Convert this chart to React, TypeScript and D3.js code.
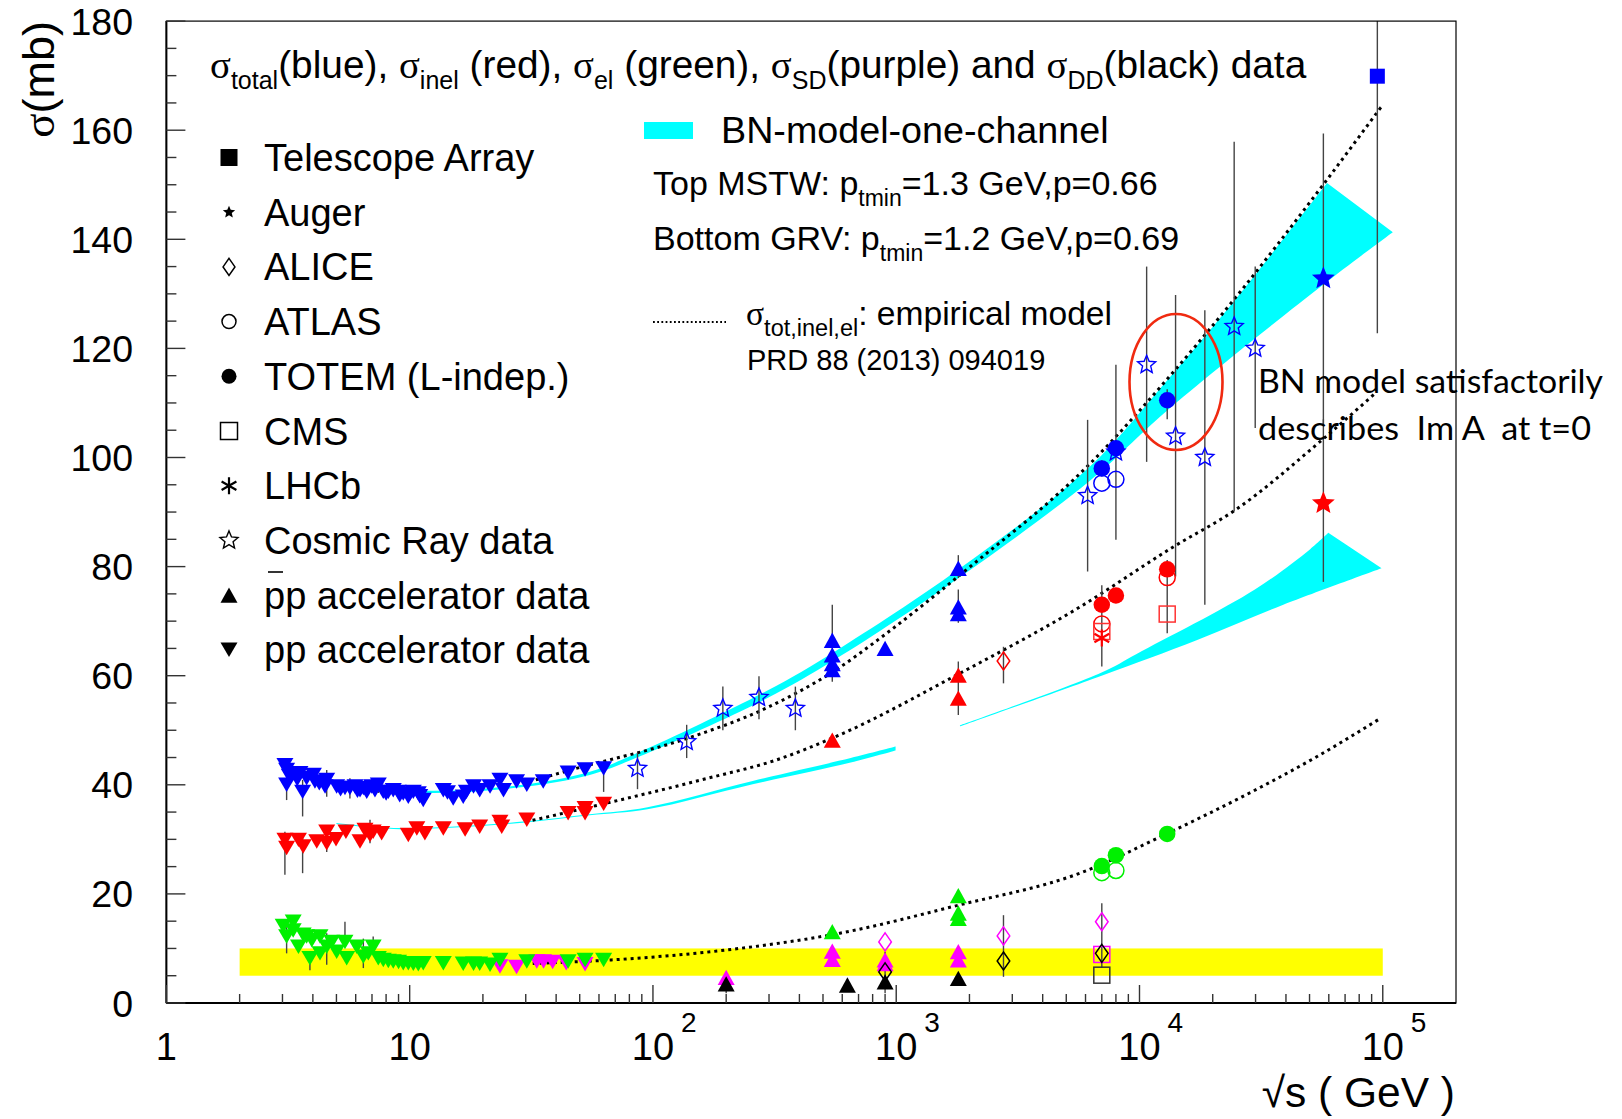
import React from 'react';
import * as d3 from 'd3';

const W = 1622, H = 1119;
const FONT = "'Liberation Sans', Arial, Helvetica, sans-serif";
const SERIF = "'Liberation Serif', 'Times New Roman', serif";

// ---------- axes ----------
const xDomain: [number, number] = [1, 2e5];
const yDomain: [number, number] = [0, 180];
const xMajorTicks = [1, 10, 100, 1000, 10000, 100000];
const xTickBase = ['1', '10', '10', '10', '10', '10'];
const xTickExp = ['', '', '2', '3', '4', '5'];
const yMajorTicks = [0, 20, 40, 60, 80, 100, 120, 140, 160, 180];

// ---------- pp accelerator data (down triangles) ----------
const ppTotal: [number, number][] = [
  [3.07, 43.6], [3.12, 42.7], [3.12, 40.0], [3.2, 41.6], [3.32, 42.1], [3.45, 41.0], [3.54, 42.1], [3.63, 38.7],
  [3.77, 41.2], [4.02, 41.8], [4.08, 40.6], [4.25, 40.3], [4.49, 39.7], [4.56, 40.9], [5.01, 39.7], [5.2, 39.2],
  [5.42, 39.4], [5.68, 39.4], [5.96, 39.7], [6.1, 38.9], [6.25, 39.0], [6.45, 39.4], [6.66, 38.7], [6.98, 39.7],
  [7.2, 39.0], [7.43, 40.0], [7.79, 38.7], [8.0, 38.4], [8.17, 38.7], [8.56, 39.0], [8.98, 38.7], [9.1, 38.1],
  [9.41, 38.4], [9.87, 37.8], [10.0, 38.3], [10.35, 38.7], [10.85, 38.4], [11.0, 37.9], [11.37, 37.2],
  [13.75, 39.0], [14.3, 38.6], [15.1, 37.5], [16.6, 37.8], [17.1, 38.7], [18.3, 39.7], [19.4, 39.0],
  [21.4, 39.7], [23.5, 40.9], [24.3, 39.0], [27.5, 40.6], [30.3, 40.0], [35.4, 40.6], [44.8, 42.2],
  [52.6, 42.8], [62.7, 43.0],
];
const ppInel: [number, number][] = [
  [3.07, 29.9], [3.12, 28.4], [3.49, 29.9], [3.65, 28.7], [4.15, 29.6], [4.56, 31.4], [4.56, 29.3],
  [4.98, 30.0], [5.47, 31.4], [6.25, 29.6], [6.55, 31.7], [6.87, 30.8], [7.08, 31.4], [7.67, 31.1],
  [9.87, 30.8], [10.7, 32.0], [11.55, 31.1], [13.75, 32.0], [16.9, 31.8], [19.4, 32.3], [23.5, 33.2],
  [23.9, 32.3], [30.3, 33.6], [44.8, 34.8], [52.6, 35.7], [52.6, 34.8], [62.7, 36.5],
];
const ppEl: [number, number][] = [
  [3.02, 14.1], [3.12, 12.2], [3.32, 14.9], [3.32, 13.3], [3.49, 10.3], [3.65, 12.5], [3.77, 12.2],
  [3.89, 8.2], [3.96, 11.5], [4.28, 12.2], [4.28, 9.1], [4.56, 10.3], [4.78, 11.2], [5.01, 9.4],
  [5.42, 11.2], [5.51, 8.2], [6.06, 10.3], [6.45, 8.5], [6.76, 9.1], [7.08, 10.3], [7.43, 8.2],
  [7.79, 7.9], [8.17, 7.7], [8.56, 7.6], [9.0, 7.5], [9.41, 7.3], [9.87, 7.3], [10.35, 7.2], [10.85, 7.1],
  [11.37, 7.3], [13.75, 7.3], [16.6, 7.2], [18.3, 7.2], [19.4, 7.2], [21.4, 7.0], [23.5, 7.9],
  [30.3, 7.6], [44.8, 7.6], [52.6, 7.9], [62.7, 7.9],
];
const ppSD: [number, number][] = [
  [23.5, 6.7], [27.5, 6.6], [33.3, 7.6], [35.5, 7.6], [38.7, 7.5], [44.0, 7.3], [52.6, 7.1],
];

// ---------- pbar-p accelerator data (up triangles) ----------
const ppbarTotal: [number, number][] = [
  [546, 66.5], [546, 63.8], [546, 62.2], [546, 61.1], [900, 65.0], [1800, 79.7], [1800, 72.6], [1800, 71.4],
];
const ppbarInel: [number, number][] = [[546, 48.2], [1800, 60.1], [1800, 55.9]];
const ppbarEl: [number, number][] = [[546, 13.1], [1800, 19.7], [1800, 16.5], [1800, 15.5]];
const ppbarSD: [number, number][] = [[200, 4.7], [546, 9.5], [546, 8.0], [900, 7.9], [900, 7.2], [1800, 9.4], [1800, 7.9]];
const ppbarDD: [number, number][] = [[200, 3.5], [630, 3.3], [900, 3.9], [1800, 4.5]];

// ---------- cosmic ray data (open stars) : sqrt(s), sigma, low, high ----------
const cosmicTotal: [number, number, number, number][] = [
  [86.4, 43.0, 39.2, 45.9], [137.6, 47.9, 44.9, 51.0], [193.8, 54.0, 50.0, 58.0], [272.8, 56.0, 52.0, 59.9],
  [385, 54.0, 50.0, 58.0], [6120, 93.0, 79.1, 106.9], [8000, 101.0, 84.9, 117.0], [10700, 117.0, 99.2, 135.0],
  [14070, 103.9, 78.2, 129.8], [18560, 100.0, 73.0, 127.0], [24500, 124.0, 90.1, 157.9], [29900, 120.0, 105.4, 135.0],
];

// ---------- LHC & ultra-high-energy data ----------
const totemTotal: [number, number][] = [[7000, 98.0], [8000, 101.7], [13000, 110.5]];
const totemInel: [number, number][] = [[7000, 73.0], [8000, 74.7], [13000, 79.5]];
const totemEl: [number, number][] = [[7000, 25.1], [8000, 27.1], [13000, 31.0]];
const atlasTotal: [number, number][] = [[7000, 95.3], [8000, 96.0]];
const atlasInel: [number, number][] = [[7000, 69.5], [13000, 78.0]];
const atlasEl: [number, number][] = [[7000, 23.9], [8000, 24.3]];
const cmsInel: [number, number][] = [[7000, 68.1], [13000, 71.3]];
const cmsSD: [number, number][] = [[7000, 8.9]];
const cmsDD: [number, number][] = [[7000, 5.1]];
const lhcbInel: [number, number][] = [[7000, 66.9]];
const aliceInel: [number, number][] = [[2760, 62.7]];
const aliceSD: [number, number][] = [[900, 11.2], [2760, 12.3], [7000, 14.9]];
const aliceDD: [number, number][] = [[900, 5.7], [2760, 7.7], [7000, 9.1]];
const augerTotal: [number, number][] = [[57000, 132.8]];
const augerInel: [number, number][] = [[57000, 91.6]];
const taTotal: [number, number][] = [[95000, 169.9]];

// ---------- error bars : sqrt(s), low, high ----------
const errorBars: [number, number, number][] = [
  [3.12, 37.2, 43.9], [3.63, 34.2, 40.9], [4.56, 37.8, 42.7], [5.68, 37.5, 41.2], [7.43, 38.5, 41.2], [62.7, 38.7, 44.5],
  [3.07, 23.5, 31.4], [3.63, 23.8, 31.1], [4.56, 27.7, 32.6], [6.87, 29.3, 33.6],
  [3.12, 9.1, 13.9], [3.89, 6.0, 8.5], [4.56, 7.0, 12.8], [5.42, 10.3, 14.9], [6.45, 6.4, 11.8], [7.08, 9.1, 12.2],
  [546, 58.9, 73.0], [1800, 77.9, 82.1], [1800, 69.7, 75.8], [1800, 52.8, 62.6], [2760, 58.6, 65.3],
  [2760, 4.8, 16.1], [900, 1.8, 9.4], [200, 1.8, 4.8], [7000, 6.4, 18.3], [7000, 61.7, 76.6],
  [13000, 67.8, 81.2], [13000, 107.0, 112.5], [7000, 96.5, 99.5],
  [57000, 106.0, 159.4], [57000, 77.2, 107.0], [95000, 122.8, 180],
];

// ---------- empirical model (dotted) ----------
const modelTotal: [number, number][] = [
  [33, 40.9], [45.7, 42.7], [138, 48.5], [290, 54.0], [562, 61.0], [896, 67.5], [1940, 79.4],
  [6270, 98.9], [12900, 114.2], [24400, 128.9], [56000, 149.6], [99000, 164.4],
];
const modelInel: [number, number][] = [
  [30, 33.2], [168, 41.2], [319, 44.5], [562, 48.8], [1820, 60.4], [5690, 72.6], [13760, 83.6],
  [24800, 90.4], [56200, 103.2], [93300, 111.8],
];
const modelEl: [number, number][] = [
  [30, 7.2], [67.5, 7.9], [199, 9.7], [587, 12.8], [1791, 17.9], [5690, 23.8], [12900, 31.0],
  [29200, 38.8], [52800, 45.0], [98000, 52.2],
];

// ---------- BN model bands (cyan) ----------
const bnTotalUpper: [number, number][] = [
  [5, 40.2], [12, 38.9], [28, 39.9], [55, 42.4], [88, 46.0], [293, 57.2], [562, 64.5], [1817, 79.6],
  [6270, 98.4], [12900, 114.0], [24400, 128.6], [59000, 150.3],
];
const bnTotalLower: [number, number][] = [
  [5, 39.8], [12, 38.5], [28, 39.5], [55, 41.8], [88, 45.2], [293, 55.8], [562, 63.0], [1817, 78.0],
  [6270, 95.8], [12900, 108.5], [57000, 131.7], [110000, 141.3],
];
const bnInelLowUpper: [number, number][] = [
  [5, 33.0], [8.6, 32.1], [16, 32.4], [30, 33.3], [55, 34.6], [95, 35.9], [257, 40.7], [650, 44.9], [994, 47.0],
];
const bnInelLowLower: [number, number][] = [
  [5, 32.8], [8.6, 31.9], [16, 32.2], [30, 33.1], [55, 34.4], [95, 35.5], [257, 40.1], [650, 44.1], [994, 46.3],
];
const bnInelHighUpper: [number, number][] = [
  [1828, 50.9], [6985, 60.6], [9730, 64.0], [29800, 75.8], [50300, 83.2], [59700, 86.2],
];
const bnInelHighLower: [number, number][] = [
  [1828, 50.7], [6985, 60.0], [17170, 66.5], [39000, 73.0], [98900, 79.7],
];

// ---------- SD/DD band (yellow) : sqrt(s) range, sigma range ----------
const yellowS: [number, number] = [2, 1e5];
const yellowSigma: [number, number] = [5, 10];

// ---------- legend ----------
const legendLabels = [
  'Telescope Array', 'Auger', 'ALICE', 'ATLAS', 'TOTEM (L-indep.)', 'CMS', 'LHCb', 'Cosmic Ray data',
  'pp accelerator data', 'pp accelerator data',
];
const legendMarkers = ['fsq', 'fstar', 'dm', 'oc', 'fc', 'osq', 'ast', 'ostar', 'tu', 'td'];

const BLUE = '#0000ff', RED = '#ff0000', GREEN = '#00f000', MAG = '#ff00ff', CYAN = '#00ffff', YEL = '#ffff00';

function starPath(R: number, ratio = 0.42) {
  const pts: string[] = [];
  for (let i = 0; i < 10; i++) {
    const r = i % 2 === 0 ? R : R * ratio;
    const a = -Math.PI / 2 + (i * Math.PI) / 5;
    pts.push(`${(r * Math.cos(a)).toFixed(2)},${(r * Math.sin(a)).toFixed(2)}`);
  }
  return 'M' + pts.join('L') + 'Z';
}

function Marker({ type, cx, cy, s, color }: { type: string; cx: number; cy: number; s: number; color: string }) {
  const t = `translate(${cx},${cy})`;
  const sw = 1.5;
  switch (type) {
    case 'td': {
      const h = s * 0.85;
      return <path transform={t} d={`M${-s / 2},${-h / 2}L${s / 2},${-h / 2}L0,${h / 2}Z`} fill={color} />;
    }
    case 'tu': {
      const h = s * 0.9;
      return <path transform={t} d={`M${-s / 2},${h / 2}L${s / 2},${h / 2}L0,${-h / 2}Z`} fill={color} />;
    }
    case 'fc':
      return <circle cx={cx} cy={cy} r={s / 2} fill={color} />;
    case 'oc':
      return <circle cx={cx} cy={cy} r={s / 2} fill="none" stroke={color} strokeWidth={sw} />;
    case 'fsq':
      return <rect x={cx - s / 2} y={cy - s / 2} width={s} height={s} fill={color} />;
    case 'osq':
      return <rect x={cx - s / 2} y={cy - s / 2} width={s} height={s} fill="none" stroke={color} strokeWidth={sw} />;
    case 'dm': {
      const w = s * 0.7;
      return <path transform={t} d={`M0,${-s / 2}L${w / 2},0L0,${s / 2}L${-w / 2},0Z`} fill="none" stroke={color} strokeWidth={sw} />;
    }
    case 'fstar':
      return <path transform={t} d={starPath(s / 2, 0.45)} fill={color} />;
    case 'ostar':
      return <path transform={t} d={starPath(s / 2, 0.45)} fill="none" stroke={color} strokeWidth={1.4} />;
    case 'ast': {
      const r = s / 2;
      const d = `M0,${-r}L0,${r}M${-r * 0.87},${-r * 0.5}L${r * 0.87},${r * 0.5}M${-r * 0.87},${r * 0.5}L${r * 0.87},${-r * 0.5}`;
      return <path transform={t} d={d} stroke={color} strokeWidth={2.2} fill="none" />;
    }
  }
  return null;
}

type Part = [string, string];
function Rich({ x, y, size, sub, subDy, parts }: { x: number; y: number; size: number; sub: number; subDy: number; parts: Part[] }) {
  let cur = 0;
  return (
    <text x={x} y={y} fontSize={size} fontFamily={FONT} style={{ whiteSpace: 'pre' }}>
      {parts.map(([t, k], i) => {
        const target = k === 'sub' ? subDy : 0;
        const dy = target - cur;
        cur = target;
        return (
          <tspan key={i} dy={dy} fontSize={k === 'sub' ? sub : size} fontFamily={k === 'g' ? SERIF : FONT}>
            {t}
          </tspan>
        );
      })}
    </text>
  );
}

export default function App() {
  const X0 = 166.4, X1 = 1456, Y0 = 1003, Y1 = 21.1;
  const x = d3.scaleLog().domain(xDomain).range([X0, X1]);
  const y = d3.scaleLinear().domain(yDomain).range([Y0, Y1]);

  const line = d3.line<[number, number]>().x((d) => x(d[0])).y((d) => y(d[1])).curve(d3.curveMonotoneX);
  const edge = d3.line<[number, number]>().x((d) => x(d[0])).y((d) => y(d[1])).curve(d3.curveCatmullRom.alpha(0.5));
  const band = (up: [number, number][], lo: [number, number][]) => {
    const a = edge(up) as string;
    const b = edge(lo.slice().reverse()) as string;
    return a + 'L' + b.slice(1) + 'Z';
  };

  const xMinor: number[] = [];
  for (let p = 0; p < 5; p++) for (let k = 2; k <= 9; k++) xMinor.push(k * Math.pow(10, p));
  const yMinor = d3.range(0, 181, 5).filter((v) => v % 20 !== 0);

  const pts = (data: [number, number][], type: string, color: string, s: number, key: string) =>
    data.map((d, i) => <Marker key={key + i} type={type} cx={x(d[0])} cy={y(d[1])} s={s} color={color} />);

  const legendY0 = 157.5, legendDY = 54.7;

  return (
    <div style={{ position: 'absolute', left: 0, top: 0 }}>
      <svg width={W} height={H} viewBox={`0 0 ${W} ${H}`} style={{ display: 'block', background: '#fff' }}>
        <defs>
          <clipPath id="plotclip">
            <rect x={X0} y={Y1} width={X1 - X0} height={Y0 - Y1} />
          </clipPath>
        </defs>
        <rect x={0} y={0} width={W} height={H} fill="#fff" />

        <g clipPath="url(#plotclip)">
          {/* yellow SD/DD band */}
          <rect
            x={x(yellowS[0])}
            y={y(yellowSigma[1])}
            width={x(yellowS[1]) - x(yellowS[0])}
            height={y(yellowSigma[0]) - y(yellowSigma[1])}
            fill={YEL}
          />
          {/* cyan BN model bands */}
          <path d={band(bnTotalUpper, bnTotalLower)} fill={CYAN} />
          <path d={band(bnInelLowUpper, bnInelLowLower)} fill={CYAN} />
          <path d={band(bnInelHighUpper, bnInelHighLower)} fill={CYAN} />

          {/* empirical model */}
          {[modelTotal, modelInel, modelEl].map((m, i) => (
            <path key={'m' + i} d={line(m) as string} fill="none" stroke="#000" strokeWidth={3} strokeDasharray="3 4" />
          ))}

          {/* error bars */}
          {errorBars.map((e, i) => (
            <line key={'e' + i} x1={x(e[0])} x2={x(e[0])} y1={y(e[1])} y2={y(Math.min(e[2], 180))} stroke="#444" strokeWidth={1.4} />
          ))}
          {cosmicTotal.map((c, i) => (
            <line key={'ce' + i} x1={x(c[0])} x2={x(c[0])} y1={y(c[2])} y2={y(c[3])} stroke="#444" strokeWidth={1.4} />
          ))}

          {/* low energy pp */}
          {pts(ppSD, 'td', MAG, 17, 'sd')}
          {pts(ppTotal, 'td', BLUE, 17, 'pt')}
          {pts(ppInel, 'td', RED, 17, 'pi')}
          {pts(ppEl, 'td', GREEN, 17, 'pe')}

          {/* pbar-p */}
          {pts(ppbarTotal, 'tu', BLUE, 17, 'bt')}
          {pts(ppbarInel, 'tu', RED, 17, 'bi')}
          {pts(ppbarEl, 'tu', GREEN, 17, 'be')}
          {pts(ppbarSD, 'tu', MAG, 17, 'bs')}
          {pts(ppbarDD, 'tu', '#000', 17, 'bd')}

          {/* cosmic */}
          {pts(cosmicTotal.map((c) => [c[0], c[1]] as [number, number]), 'ostar', BLUE, 19, 'cr')}

          {/* LHC */}
          {pts(atlasTotal, 'oc', BLUE, 16, 'at')}
          {pts(atlasInel, 'oc', RED, 16, 'ai')}
          {pts(atlasEl, 'oc', GREEN, 16, 'ae')}
          {pts(cmsInel, 'osq', '#ff3333', 16, 'ci')}
          {pts(cmsSD, 'osq', MAG, 16, 'cs')}
          {pts(cmsDD, 'osq', '#333', 16, 'cd')}
          {pts(lhcbInel, 'ast', RED, 17, 'li')}
          {pts(aliceInel, 'dm', RED, 18, 'ali')}
          {pts(aliceSD, 'dm', MAG, 18, 'als')}
          {pts(aliceDD, 'dm', '#000', 18, 'ald')}
          {pts(totemTotal, 'fc', BLUE, 16.5, 'tt')}
          {pts(totemInel, 'fc', RED, 16.5, 'ti')}
          {pts(totemEl, 'fc', GREEN, 16.5, 'te')}
          {pts(augerTotal, 'fstar', BLUE, 24, 'ut')}
          {pts(augerInel, 'fstar', RED, 24, 'ui')}
          {pts(taTotal, 'fsq', BLUE, 15, 'ta')}
        </g>

        {/* frame */}
        <rect x={X0} y={Y1} width={X1 - X0} height={Y0 - Y1} fill="none" stroke="#000" strokeWidth={1.2} />
        <line x1={X0} x2={X1} y1={Y0} y2={Y0} stroke="#000" strokeWidth={2} />
        <line x1={X0} x2={X0} y1={Y0} y2={Y1} stroke="#000" strokeWidth={2} />

        {/* x ticks */}
        {xMajorTicks.map((t) => (
          <line key={'xM' + t} x1={x(t)} x2={x(t)} y1={Y0} y2={Y0 - 18} stroke="#333" strokeWidth={1.4} />
        ))}
        {xMinor.map((t) => (
          <line key={'xm' + t} x1={x(t)} x2={x(t)} y1={Y0} y2={Y0 - 9} stroke="#333" strokeWidth={1.4} />
        ))}
        {xMajorTicks.map((t, i) => (
          <g key={'xl' + t} fontFamily={FONT}>
            <text x={x(t)} y={1060} fontSize={38} textAnchor="middle">{xTickBase[i]}</text>
            {xTickExp[i] && (
              <text x={x(t) + 28} y={1032} fontSize={28}>{xTickExp[i]}</text>
            )}
          </g>
        ))}

        {/* y ticks */}
        {yMajorTicks.map((t) => (
          <line key={'yM' + t} x1={X0} x2={X0 + 19} y1={y(t)} y2={y(t)} stroke="#333" strokeWidth={1.4} />
        ))}
        {yMinor.map((t) => (
          <line key={'ym' + t} x1={X0} x2={X0 + 10} y1={y(t)} y2={y(t)} stroke="#333" strokeWidth={1.4} />
        ))}
        {yMajorTicks.map((t) => (
          <text key={'yl' + t} x={133} y={y(t) + 13.5} fontSize={37.5} textAnchor="end" fontFamily={FONT}>{t}</text>
        ))}

        {/* axis titles */}
        <text x={1455} y={1107} fontSize={42.5} textAnchor="end" fontFamily={FONT} style={{ whiteSpace: 'pre' }}>√s ( GeV )</text>
        <text transform="translate(54,21) rotate(-90)" fontSize={45} textAnchor="end" fontFamily={FONT}>
          <tspan fontFamily={SERIF}>σ</tspan>(mb)
        </text>

        {/* header */}
        <Rich
          x={210}
          y={78}
          size={38.8}
          sub={25}
          subDy={11}
          parts={[
            ['σ', 'g'], ['total', 'sub'], ['(blue), ', 'n'], ['σ', 'g'], ['inel', 'sub'], [' (red), ', 'n'],
            ['σ', 'g'], ['el', 'sub'], [' (green), ', 'n'], ['σ', 'g'], ['SD', 'sub'], ['(purple) and ', 'n'],
            ['σ', 'g'], ['DD', 'sub'], ['(black) data', 'n'],
          ]}
        />

        {/* left legend */}
        {legendLabels.map((l, i) => {
          const cy = legendY0 + i * legendDY;
          const mt = legendMarkers[i];
          const s = mt === 'fstar' ? 13 : mt === 'oc' ? 14 : mt === 'fc' ? 15 : mt === 'dm' ? 17 : mt === 'ostar' ? 19 : 17;
          return (
            <g key={'lg' + i}>
              <Marker type={mt} cx={229} cy={cy} s={s} color="#000" />
              <text x={264} y={cy + 13.5} fontSize={38} fontFamily={FONT}>{l}</text>
            </g>
          );
        })}
        <line x1={268} x2={283} y1={572} y2={572} stroke="#000" strokeWidth={1.6} />

        {/* right legend */}
        <rect x={644} y={122} width={49} height={17} fill={CYAN} />
        <text x={721} y={143} fontSize={37.7} fontFamily={FONT}>BN-model-one-channel</text>
        <Rich x={653} y={195} size={34} sub={23} subDy={11}
          parts={[['Top MSTW: p', 'n'], ['tmin', 'sub'], ['=1.3 GeV,p=0.66', 'n']]} />
        <Rich x={653} y={250} size={34} sub={23} subDy={11}
          parts={[['Bottom GRV: p', 'n'], ['tmin', 'sub'], ['=1.2 GeV,p=0.69', 'n']]} />
        <line x1={653} x2={726} y1={322} y2={322} stroke="#000" strokeWidth={1.8} strokeDasharray="1.8 2.4" />
        <Rich x={746} y={325} size={33.6} sub={23.5} subDy={11}
          parts={[['σ', 'g'], ['tot,inel,el', 'sub'], [': empirical model', 'n']]} />
        <text x={747} y={370} fontSize={29} fontFamily={FONT}>PRD 88 (2013) 094019</text>

        {/* annotation */}
        <ellipse cx={1176} cy={382} rx={46.5} ry={68} fill="none" stroke="#f02a10" strokeWidth={2.6} />
        <text x={1258} y={393} fontSize={33} fontFamily="Lato, 'Open Sans', sans-serif" textLength={345} lengthAdjust="spacingAndGlyphs">
          BN model satisfactorily
        </text>
        <text x={1258} y={440} fontSize={33} fontFamily="Lato, 'Open Sans', sans-serif" textLength={333} lengthAdjust="spacingAndGlyphs" style={{ whiteSpace: 'pre' }}>
          describes  Im A  at t=0
        </text>
      </svg>
    </div>
  );
}
